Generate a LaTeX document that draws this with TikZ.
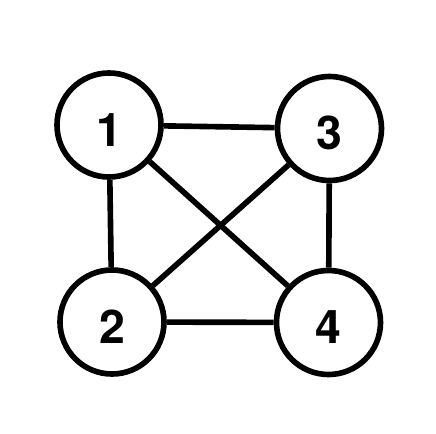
\documentclass[tikz,border=0pt]{standalone}
\usepackage{fontspec}
\setmainfont{TeX Gyre Heros}
\usepackage{tikz}
\usetikzlibrary{positioning}

\begin{document}
\begin{tikzpicture}[
  x=0.025cm, y=-0.025cm,
  vert/.style={circle, draw=black, fill=white, line width=4pt, minimum size=2.6cm, inner sep=0pt,
    text height=30.5pt, text depth=0pt, font=\fontsize{33}{33}\selectfont\bfseries},
  edge/.style={line width=4pt, black},
]
\useasboundingbox (0,0) rectangle (436,434);

% ============ vertices ============
\node[vert] (v1) at (109,125)   {1};
\node[vert] (v3) at (329.5,128.5) {3};
\node[vert] (v2) at (112,322)   {2};
\node[vert] (v4) at (328.5,322.5) {4};

% ============ edges ============
\draw[edge] (v1)--(v3);
\draw[edge] (v1)--(v2);
\draw[edge] (v1)--(v4);
\draw[edge] (v3)--(v2);
\draw[edge] (v3)--(v4);
\draw[edge] (v2)--(v4);
\end{tikzpicture}
\end{document}
